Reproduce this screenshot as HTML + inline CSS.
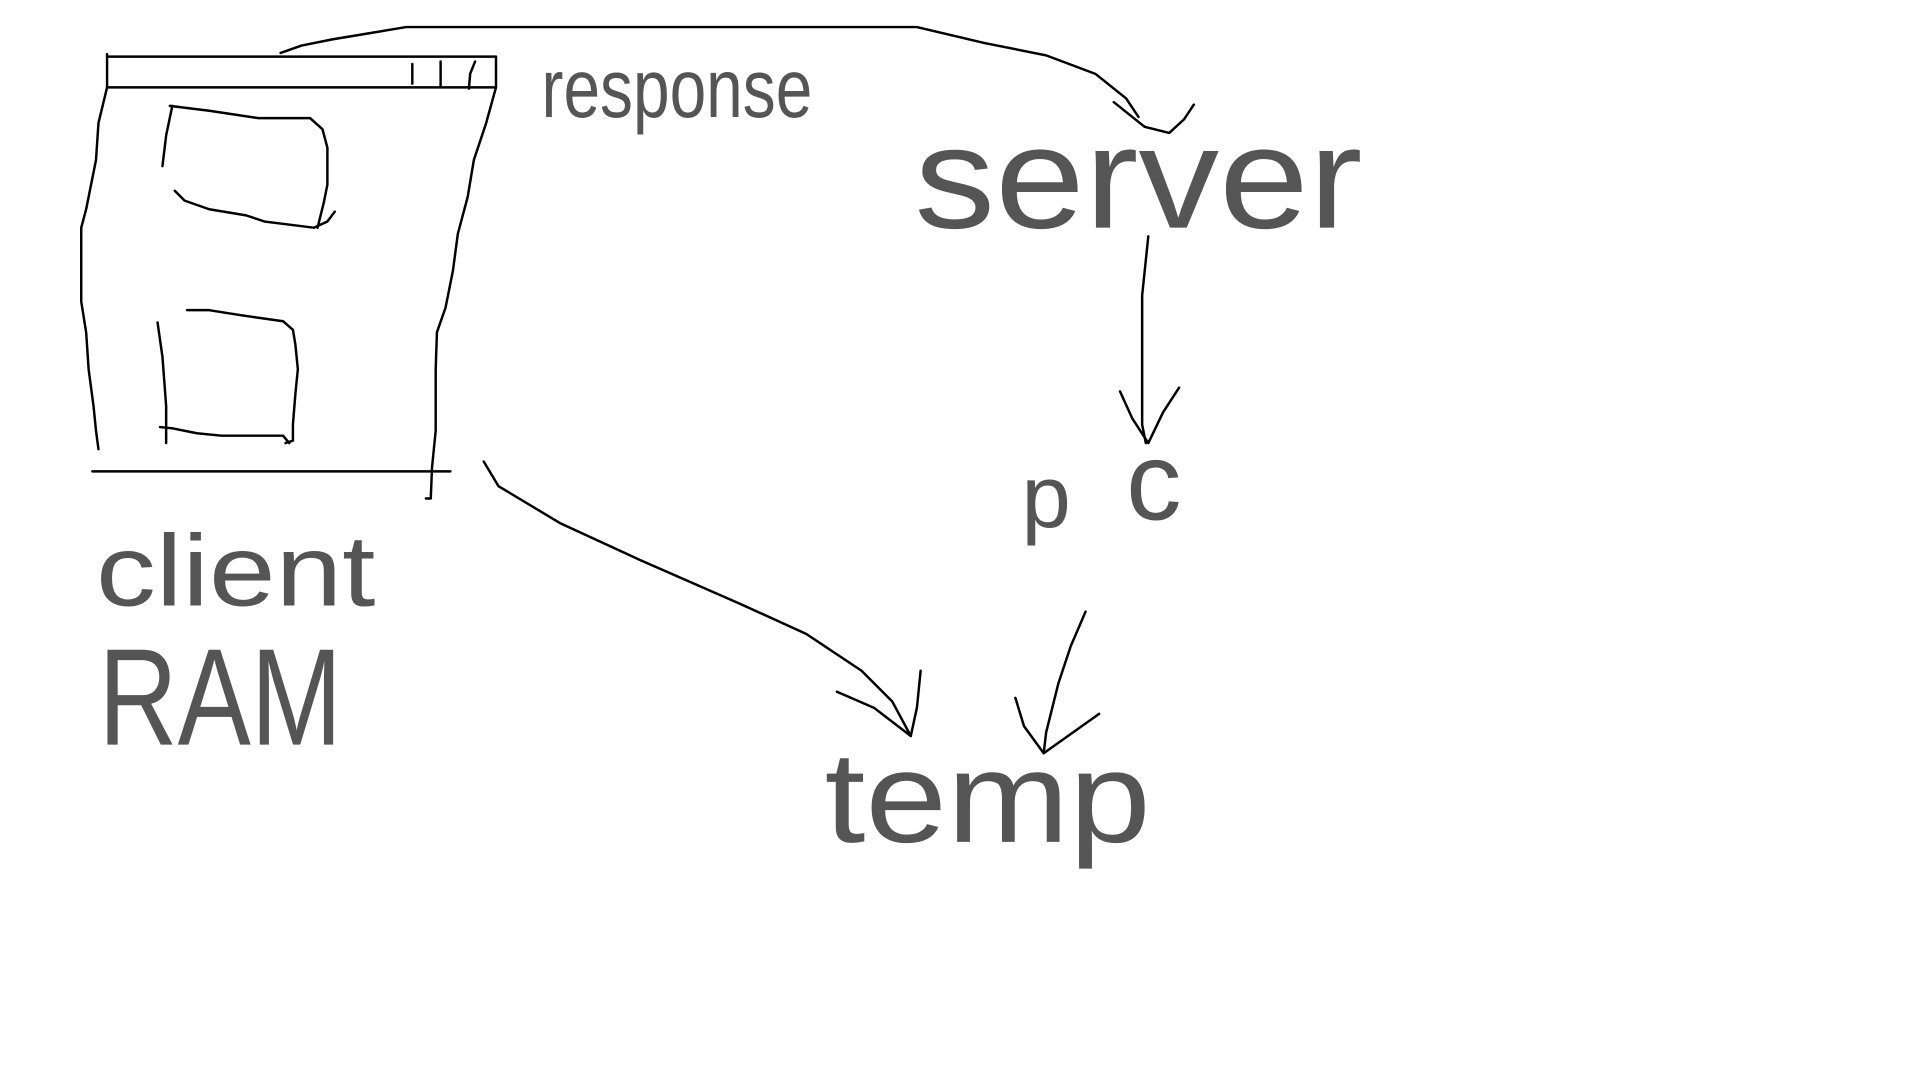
<!DOCTYPE html>
<html><head><meta charset="utf-8"><style>
html,body{margin:0;padding:0;background:#fff;width:1920px;height:1080px;overflow:hidden}
svg{display:block}
text{font-family:"Liberation Sans",sans-serif;fill:#555}
</style></head><body>
<svg width="1920" height="1080" viewBox="0 0 1560 877.5" xmlns="http://www.w3.org/2000/svg">
<g fill="none" stroke="#000" stroke-width="2" stroke-linejoin="round" stroke-linecap="round">
<polyline points="228,43 245,37 270,32 300,27 330,22 745,22 800,35 850,45 890,60 915,80 925,95"/>
<polyline points="905,83 930,103 950,108 962,97 970,85"/>
<polyline points="87,46 403,46 403,71 87,71 87,44"/>
<line x1="335" y1="52" x2="335" y2="68"/><line x1="358" y1="50" x2="358" y2="70"/>
<polyline points="386,50 382,60 381,72"/>
<polyline points="87,71 80,100 78,130 70,170 66,185 66,245 70,270 72,300 76,330 78,350 80,365"/>
<polyline points="403,71 395,100 385,130 380,160 372,190 368,220 362,250 355,270 354,300 354,350 351,380 350,405 346,405"/>
<line x1="75" y1="383" x2="366" y2="383"/>
<polyline points="140,86 135,110 132,135"/>
<polyline points="138,86 170,90 210,96 252,96 262,105 266,120 266,150 263,165 258,185"/>
<polyline points="142,155 150,163 170,170 200,175 215,180 255,185 266,180 272,172"/>
<polyline points="128,262 132,290 135,330 135,360"/>
<polyline points="152,252 170,252 195,256 230,261 238,268 240,280 242,300 240,320 238,345 238,358 232,360"/>
<polyline points="130,347 140,348 160,352 180,354 230,354 235,360"/>
<polyline points="933,192 928,240 928,345 931,360"/>
<polyline points="910,318 920,340 933,360 945,335 958,315"/>
<polyline points="882,497 870,525 860,555 850,595 848,612 893,580"/>
<polyline points="825,567 832,590 848,612"/>
<polyline points="393,375 405,395 455,425 520,455 600,490 655,515 700,545 725,570 740,598"/>
<polyline points="680,562 710,575 740,598 745,575 748,545"/>
</g>
<text x="440" y="95" font-size="68" textLength="220" lengthAdjust="spacingAndGlyphs">response</text>
<text x="743" y="185" font-size="118" textLength="364" lengthAdjust="spacingAndGlyphs">server</text>
<text x="78" y="492" font-size="82" textLength="227" lengthAdjust="spacingAndGlyphs">client</text>
<text x="80" y="605" font-size="112" textLength="198" lengthAdjust="spacingAndGlyphs">RAM</text>
<text x="830" y="428" font-size="72">p</text>
<text x="915" y="422" font-size="90">c</text>
<text x="670" y="684" font-size="105" textLength="265" lengthAdjust="spacingAndGlyphs">temp</text>
</svg>
</body></html>
